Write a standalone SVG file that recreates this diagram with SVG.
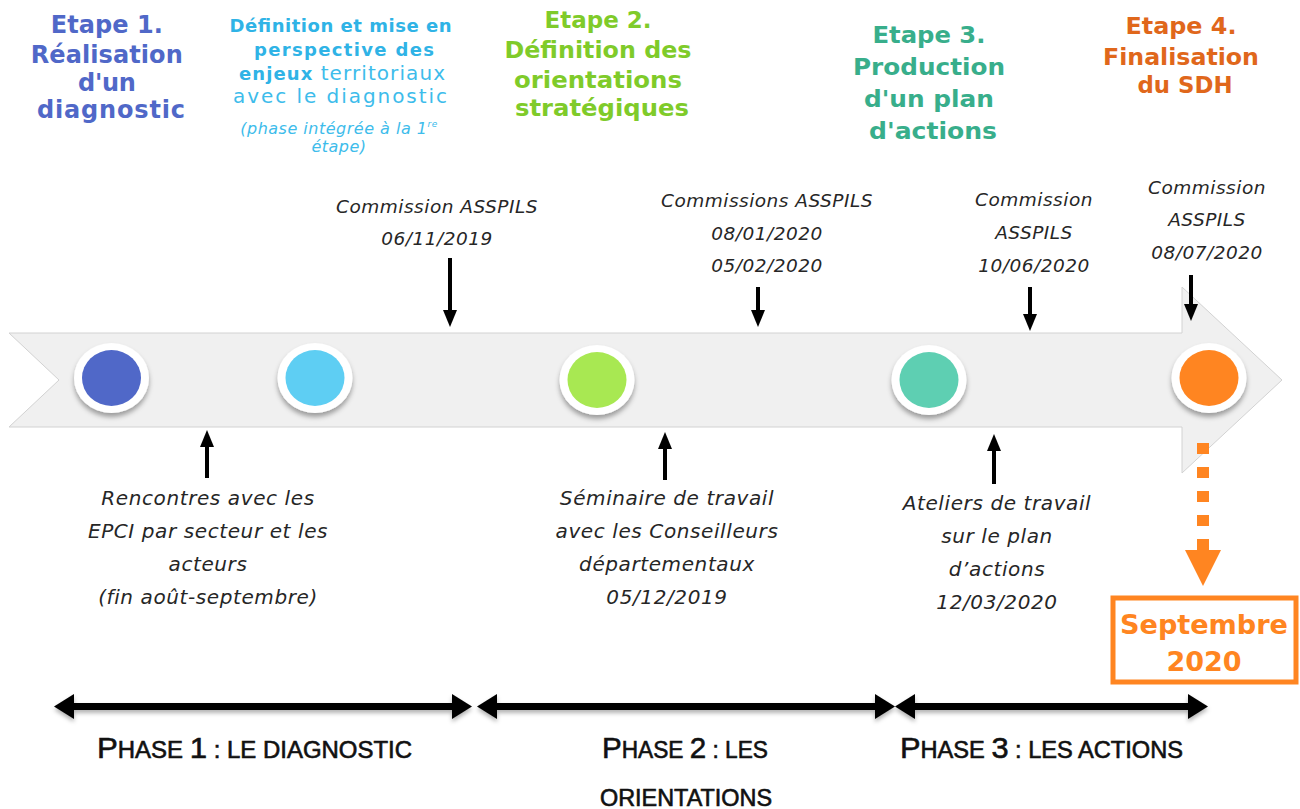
<svg xmlns="http://www.w3.org/2000/svg" width="1300" height="809" viewBox="0 0 1300 809">
<defs>
<style>
.h{font-family:"DejaVu Sans",sans-serif;font-weight:bold;text-anchor:middle}
.hr{font-family:"DejaVu Sans",sans-serif;font-weight:normal}
.c{font-family:"DejaVu Sans",sans-serif;font-style:italic;font-size:18.5px;letter-spacing:0.5px;fill:#262626;text-anchor:middle}
.cb{font-size:20px;letter-spacing:0.6px}
.ph{font-family:"Liberation Sans Narrow","Liberation Sans",sans-serif;font-weight:normal;fill:#111;stroke:#111;stroke-width:0.6px;text-anchor:start}
.big{font-size:30px}
.sm{font-size:23px}
.ring{fill:#fff;filter:url(#sh)}
.blk{fill:#000}
</style>
<filter id="sh" x="-40%" y="-40%" width="180%" height="190%">
<feDropShadow dx="0" dy="4" stdDeviation="2.5" flood-color="#000" flood-opacity="0.35"/>
</filter>
<filter id="sh2" x="-10%" y="-100%" width="120%" height="300%">
<feDropShadow dx="0" dy="3" stdDeviation="2" flood-color="#000" flood-opacity="0.3"/>
</filter>
</defs>

<g id="timeline">
<path d="M9,333 L1182,333 L1182,287 L1282,380 L1182,473 L1182,427 L9,427 L59,380 Z" fill="#F0F0F0" stroke="#D2D2D2" stroke-width="1"/>
</g>

<g id="node-etape1">
<ellipse class="ring" cx="111.5" cy="378" rx="37.5" ry="35"/>
<ellipse cx="111.5" cy="378" rx="29.5" ry="28" fill="#5068C8"/>
<text class="h" fill="#5068C8" font-size="24">
<tspan x="111" y="33" textLength="112">Etape 1.</tspan>
<tspan x="111" y="63" textLength="152">Réalisation</tspan>
<tspan x="111" y="91" textLength="58">d'un</tspan>
<tspan x="111" y="118" textLength="148">diagnostic</tspan>
</text>
</g>

<g id="node-enjeux">
<ellipse class="ring" cx="315" cy="378" rx="37.5" ry="35"/>
<ellipse cx="315" cy="378" rx="29.5" ry="28" fill="#5ECEF3"/>
<text class="h" fill="#2FB3E6" font-size="18">
<tspan x="344" y="32" textLength="222">Définition et mise en</tspan>
<tspan x="344" y="56" textLength="180">perspective des</tspan>
</text>
<text class="h" fill="#2FB3E6" font-size="18" x="342" y="80" textLength="206">enjeux <tspan class="hr" fill="#3DBCEB" font-size="20">territoriaux</tspan></text>
<text class="h hr" fill="#3DBCEB" font-size="20" x="340" y="103" textLength="214">avec le diagnostic</text>
<text class="h hr" fill="#3DBCEB" font-size="16" letter-spacing="0.5" font-style="italic" x="339" y="134">(phase intégrée à la 1<tspan font-size="9" dy="-7">re</tspan></text>
<text class="h hr" fill="#3DBCEB" font-size="16" letter-spacing="0.5" font-style="italic" x="339" y="152">étape)</text>
</g>

<g id="node-etape2">
<ellipse class="ring" cx="597" cy="380" rx="37.5" ry="35"/>
<ellipse cx="597" cy="380" rx="29.5" ry="28" fill="#A8E852"/>
<text class="h" fill="#7FCB2A" font-size="23">
<tspan x="602" y="28" textLength="107" lengthAdjust="spacingAndGlyphs">Etape 2.</tspan>
<tspan x="602" y="58" textLength="187" lengthAdjust="spacingAndGlyphs">Définition des</tspan>
<tspan x="602" y="88" textLength="168" lengthAdjust="spacingAndGlyphs">orientations</tspan>
<tspan x="602" y="116" textLength="174" lengthAdjust="spacingAndGlyphs">stratégiques</tspan>
</text>
</g>

<g id="node-etape3">
<ellipse class="ring" cx="929" cy="380" rx="37.5" ry="35"/>
<ellipse cx="929" cy="380" rx="29.5" ry="28" fill="#5ECFB2"/>
<text class="h" fill="#38AE8B" font-size="23">
<tspan x="933" y="43" textLength="113" lengthAdjust="spacingAndGlyphs">Etape 3.</tspan>
<tspan x="933" y="75" textLength="152" lengthAdjust="spacingAndGlyphs">Production</tspan>
<tspan x="933" y="107" textLength="130" lengthAdjust="spacingAndGlyphs">d'un plan</tspan>
<tspan x="933" y="139" textLength="128" lengthAdjust="spacingAndGlyphs">d'actions</tspan>
</text>
</g>

<g id="node-etape4">
<ellipse class="ring" cx="1209" cy="378" rx="37.5" ry="35"/>
<ellipse cx="1209" cy="378" rx="29.5" ry="28" fill="#FF8521"/>
<text class="h" fill="#E0671B" font-size="23">
<tspan x="1185" y="34" textLength="111" lengthAdjust="spacingAndGlyphs">Etape 4.</tspan>
<tspan x="1185" y="65" textLength="156" lengthAdjust="spacingAndGlyphs">Finalisation</tspan>
<tspan x="1185" y="93" textLength="95" lengthAdjust="spacingAndGlyphs">du SDH</tspan>
</text>
</g>

<g id="label-commission1">
<text class="c"><tspan x="437" y="213">Commission ASSPILS</tspan><tspan x="437" y="245">06/11/2019</tspan></text>
</g>
<g id="label-commission2">
<text class="c"><tspan x="767" y="207">Commissions ASSPILS</tspan><tspan x="767" y="240">08/01/2020</tspan><tspan x="767" y="272">05/02/2020</tspan></text>
</g>
<g id="label-commission3">
<text class="c"><tspan x="1034" y="206">Commission</tspan><tspan x="1034" y="239">ASSPILS</tspan><tspan x="1034" y="272">10/06/2020</tspan></text>
</g>
<g id="label-commission4">
<text class="c"><tspan x="1207" y="194">Commission</tspan><tspan x="1207" y="226">ASSPILS</tspan><tspan x="1207" y="259">08/07/2020</tspan></text>
</g>

<g id="label-rencontres">
<text class="c cb"><tspan x="208" y="505">Rencontres avec les</tspan><tspan x="208" y="538">EPCI par secteur et les</tspan><tspan x="208" y="571">acteurs</tspan><tspan x="208" y="604">(fin août-septembre)</tspan></text>
</g>
<g id="label-seminaire">
<text class="c cb"><tspan x="667" y="505">Séminaire de travail</tspan><tspan x="667" y="538">avec les Conseilleurs</tspan><tspan x="667" y="571">départementaux</tspan><tspan x="667" y="604">05/12/2019</tspan></text>
</g>
<g id="label-ateliers">
<text class="c cb"><tspan x="997" y="510">Ateliers de travail</tspan><tspan x="997" y="543">sur le plan</tspan><tspan x="997" y="576">d’actions</tspan><tspan x="997" y="609">12/03/2020</tspan></text>
</g>

<g id="node-septembre">
<rect x="1113" y="598" width="183" height="84" fill="#fff" stroke="#FF8521" stroke-width="5"/>
<text class="h" fill="#FF8521" font-size="27"><tspan x="1204" y="634" textLength="168" lengthAdjust="spacingAndGlyphs">Septembre</tspan><tspan x="1204" y="671">2020</tspan></text>
</g>

<g id="connectors">
<g class="blk">
<rect x="448" y="258" width="4" height="56"/><polygon points="443,310 457,310 450,327"/>
<rect x="756" y="287" width="4" height="27"/><polygon points="751,310 765,310 758,327"/>
<rect x="1028" y="287" width="4" height="31"/><polygon points="1023,314 1037,314 1030,331"/>
<rect x="1189" y="275" width="4" height="33"/><polygon points="1184,304 1198,304 1191,321"/>
<rect x="205" y="444" width="4" height="34"/><polygon points="200,447 214,447 207,430"/>
<rect x="663" y="446" width="4" height="34"/><polygon points="658,449 672,449 665,432"/>
<rect x="992" y="448" width="4" height="36"/><polygon points="987,451 1001,451 994,434"/>
</g>
<g fill="#FF8521">
<rect x="1197" y="443" width="12" height="11"/>
<rect x="1197" y="467" width="12" height="11"/>
<rect x="1197" y="491" width="12" height="11"/>
<rect x="1197" y="515" width="12" height="11"/>
<rect x="1197" y="539" width="12" height="12"/>
<polygon points="1185,550 1221,550 1203,586"/>
</g>
<g class="blk" filter="url(#sh2)">
<rect x="68" y="703" width="390" height="7"/><polygon points="54,706.5 74,694 74,719"/><polygon points="472,706.5 452,694 452,719"/>
<rect x="491" y="703" width="390" height="7"/><polygon points="477,706.5 497,694 497,719"/><polygon points="895,706.5 875,694 875,719"/>
<rect x="909" y="703" width="285" height="7"/><polygon points="895,706.5 915,694 915,719"/><polygon points="1208,706.5 1188,694 1188,719"/>
</g>
</g>

<g id="phases">
<text class="ph" x="97" y="758" textLength="315" lengthAdjust="spacingAndGlyphs"><tspan class="big">P</tspan><tspan class="sm">HASE </tspan><tspan class="big">1</tspan><tspan class="sm"> : LE DIAGNOSTIC</tspan></text>
<text class="ph" x="602" y="758" textLength="166" lengthAdjust="spacingAndGlyphs"><tspan class="big">P</tspan><tspan class="sm">HASE </tspan><tspan class="big">2</tspan><tspan class="sm"> : LES</tspan></text>
<text class="ph sm" x="600" y="806" textLength="172" lengthAdjust="spacingAndGlyphs">ORIENTATIONS</text>
<text class="ph" x="900" y="758" textLength="283" lengthAdjust="spacingAndGlyphs"><tspan class="big">P</tspan><tspan class="sm">HASE </tspan><tspan class="big">3</tspan><tspan class="sm"> : LES ACTIONS</tspan></text>
</g>
</svg>
